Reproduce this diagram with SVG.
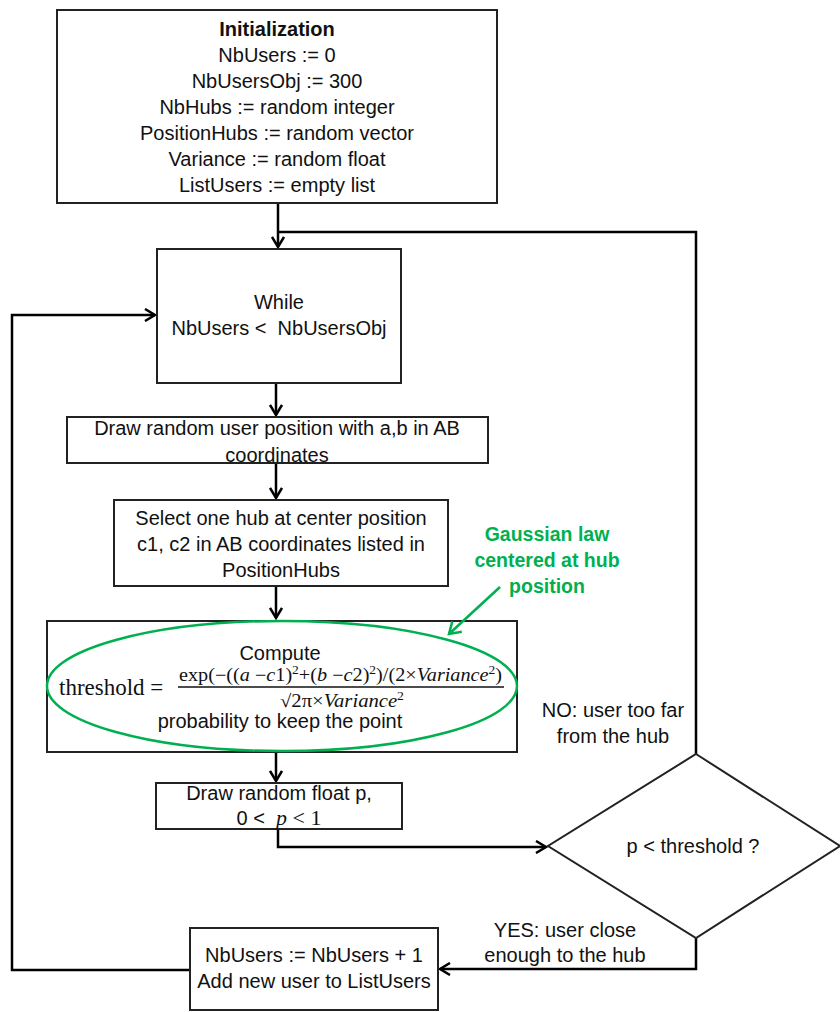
<svg xmlns="http://www.w3.org/2000/svg" width="840" height="1012" viewBox="0 0 840 1012">
<defs>
<style>
.box{fill:#fff;stroke:#222;stroke-width:2}
.t{font-family:"Liberation Sans",Arial,sans-serif;font-size:20px;fill:#111;text-anchor:middle}
.b{font-weight:bold}
.m{font-family:"Liberation Serif","Times New Roman",serif;fill:#111}
.i{font-style:italic}
.g{font-family:"Liberation Sans",Arial,sans-serif;font-size:19.5px;font-weight:bold;fill:#00B050;text-anchor:middle}
.c{fill:none;stroke:#000;stroke-width:2.5}
</style>
<marker id="ah" markerWidth="14" markerHeight="14" viewBox="0 0 14 14" refX="12" refY="7" orient="auto" markerUnits="userSpaceOnUse">
<path d="M2,1 L12,7 L2,13" fill="none" stroke="#000" stroke-width="2.5"/>
</marker>
<marker id="gh" markerWidth="16" markerHeight="16" viewBox="0 0 16 16" refX="13" refY="8" orient="auto" markerUnits="userSpaceOnUse">
<path d="M2,1 L13,8 L2,15" fill="none" stroke="#00B050" stroke-width="2.5"/>
</marker>
</defs>
<rect width="840" height="1012" fill="#fff"/>

<g id="connectors">
<path class="c" d="M278,203 V247" marker-end="url(#ah)"/>
<path class="c" d="M696,754 V232 H278"/>
<path class="c" d="M276,383 V415" marker-end="url(#ah)"/>
<path class="c" d="M276,463 V498" marker-end="url(#ah)"/>
<path class="c" d="M276,586 V618" marker-end="url(#ah)"/>
<path class="c" d="M276,752 V781" marker-end="url(#ah)"/>
<path class="c" d="M278,829 V847 H546" marker-end="url(#ah)"/>
<path class="c" d="M696,938 V969 H440" marker-end="url(#ah)"/>
<path class="c" d="M190,970 H12 V315 H155" marker-end="url(#ah)"/>
</g>

<g id="init">
<rect class="box" x="57" y="10" width="440" height="193"/>
<text class="t b" x="277" y="36">Initialization</text>
<text class="t" x="277" y="62">NbUsers := 0</text>
<text class="t" x="277" y="88">NbUsersObj := 300</text>
<text class="t" x="277" y="114">NbHubs := random integer</text>
<text class="t" x="277" y="140">PositionHubs := random vector</text>
<text class="t" x="277" y="166">Variance := random float</text>
<text class="t" x="277" y="192">ListUsers := empty list</text>
</g>

<g id="while">
<rect class="box" x="157" y="249" width="244" height="134"/>
<text class="t" x="279" y="309">While</text>
<text class="t" x="279" y="335" xml:space="preserve">NbUsers &lt;  NbUsersObj</text>
</g>

<g id="drawpos">
<rect class="box" x="67" y="417" width="421" height="46"/>
<text class="t" x="277" y="435">Draw random user position with a,b in AB</text>
<text class="t" x="277" y="462">coordinates</text>
</g>

<g id="selecthub">
<rect class="box" x="114" y="500" width="334" height="86"/>
<text class="t" x="281" y="525">Select one hub at center position</text>
<text class="t" x="281" y="551">c1, c2 in AB coordinates listed in</text>
<text class="t" x="281" y="577">PositionHubs</text>
</g>

<g id="compute">
<rect class="box" x="47" y="621" width="470" height="131"/>
<ellipse cx="282" cy="686" rx="235" ry="65" fill="none" stroke="#00B050" stroke-width="2.5"/>
<text class="t" x="280" y="660">Compute</text>
<text class="m" x="59" y="695" font-size="23">threshold =</text>
<text class="m" x="179" y="681" font-size="18" textLength="323" lengthAdjust="spacingAndGlyphs">exp(−((<tspan class="i">a</tspan> −<tspan class="i">c</tspan>1)<tspan dy="-7" font-size="12">2</tspan><tspan dy="7">+(</tspan><tspan class="i">b</tspan> −<tspan class="i">c</tspan>2)<tspan dy="-7" font-size="12">2</tspan><tspan dy="7">)/(2×</tspan><tspan class="i">Variance</tspan><tspan dy="-7" font-size="12">2</tspan><tspan dy="7">)</tspan></text>
<line x1="178" y1="687" x2="504" y2="687" stroke="#111" stroke-width="1.3"/>
<text class="m" x="280" y="707" font-size="18" textLength="124" lengthAdjust="spacingAndGlyphs">√2π×<tspan class="i">Variance</tspan><tspan dy="-7" font-size="12">2</tspan></text>
<text class="t" x="280" y="728">probability to keep the point</text>
</g>

<g id="gaussian-note">
<text class="g" x="547" y="541">Gaussian law</text>
<text class="g" x="547" y="567">centered at hub</text>
<text class="g" x="547" y="593">position</text>
<path d="M500,587 L449,634" fill="none" stroke="#00B050" stroke-width="2.5" marker-end="url(#gh)"/>
</g>

<g id="drawfloat">
<rect class="box" x="156" y="783" width="246" height="46"/>
<text class="t" x="279" y="800">Draw random float p,</text>
<text class="t" x="279" y="825" xml:space="preserve">0 &lt;  <tspan class="m i" font-size="22">p</tspan><tspan class="m" font-size="22"> &lt; 1</tspan></text>
</g>

<g id="decision">
<polygon points="696,754 840,846 696,938 548,846" fill="#fff" stroke="#222" stroke-width="2"/>
<text class="t" x="693" y="853">p &lt; threshold ?</text>
</g>

<g id="no-label">
<text class="t" x="613" y="717">NO: user too far</text>
<text class="t" x="613" y="743">from the hub</text>
</g>

<g id="yes-label">
<text class="t" x="565" y="937">YES: user close</text>
<text class="t" x="565" y="962">enough to the hub</text>
</g>

<g id="adduser">
<rect class="box" x="190" y="928" width="248" height="82"/>
<text class="t" x="314" y="962">NbUsers := NbUsers + 1</text>
<text class="t" x="314" y="988">Add new user to ListUsers</text>
</g>
</svg>
